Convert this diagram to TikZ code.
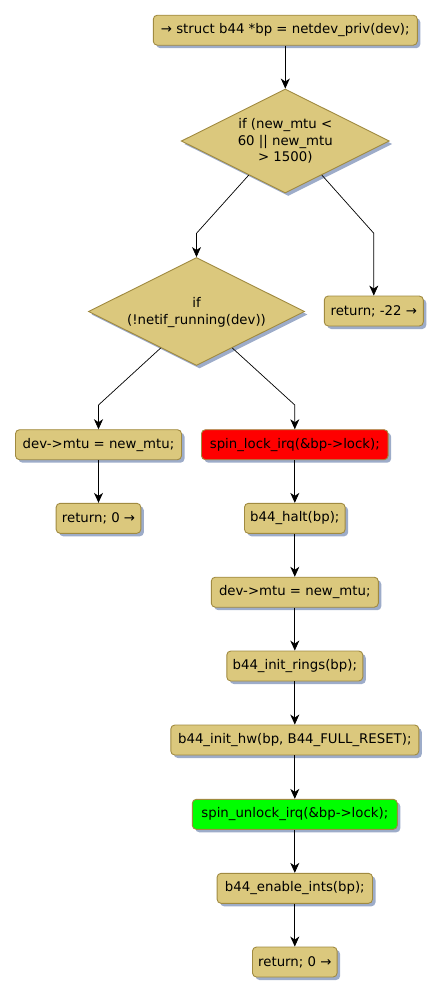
\documentclass[tikz,border=0pt]{standalone}
\usepackage{fontspec}
\setmainfont{DejaVu Sans}
\usetikzlibrary{shapes.geometric,arrows.meta,shadows,calc}
\definecolor{boxfill}{RGB}{219,200,125}
\definecolor{boxline}{RGB}{160,138,64}
\definecolor{shadowcol}{RGB}{140,157,192}
\definecolor{redfill}{RGB}{255,0,0}
\definecolor{greenfill}{RGB}{0,255,0}
\begin{document}
\begin{tikzpicture}[x=1pt,y=-1pt,
  font=\fontsize{13.3}{16.5}\selectfont,
  act/.style={draw=boxline, fill=boxfill, line width=0.9pt, rounded corners=4pt,
    minimum height=30pt, inner xsep=2pt, inner ysep=0pt,
    drop shadow={shadow xshift=3pt, shadow yshift=-3pt, fill=shadowcol, opacity=0.85}},
  dec/.style={draw=boxline, fill=boxfill, line width=0.9pt, shape=diamond, inner sep=0pt,
    drop shadow={shadow xshift=3pt, shadow yshift=-3pt, fill=shadowcol, opacity=0.85}},
  lbl/.style={align=center, inner sep=0pt},
  arr/.style={line width=0.9pt, -{Stealth[length=10pt,width=9pt,inset=3pt]}},
  darr/.style={line width=0.7pt, -{Stealth[length=10pt,width=9pt,inset=3pt]}}]
\useasboundingbox (0,0) rectangle (442,996);
\node[act, minimum width=264pt] (b1) at (285.3,30.2) {→ struct b44 *bp = netdev\_priv(dev);};
\node[dec, minimum width=208pt, minimum height=104pt] (d1) at (285.3,141) {};
\node[lbl] (d1t) at (d1.center) {if (new\_mtu <\\60 || new\_mtu\\> 1500)};
\node[act, minimum width=99pt] (r22) at (373.8,311) {return; -22 →};
\node[dec, minimum width=216pt, minimum height=108pt] (d2) at (196.5,311.5) {};
\node[lbl] (d2t) at ([yshift=-1pt]d2.center) {if\\(!netif\_running(dev))};
\node[act, minimum width=166pt] (m1) at (98.5,444.7) {dev->mtu = new\_mtu;};
\node[act, minimum width=84.7pt] (r0a) at (98.5,518.3) {return; 0 →};
\node[act, minimum width=186.7pt, fill=redfill] (sl) at (294.8,444.7) {spin\_lock\_irq(\&bp->lock);};
\node[act, minimum width=100.7pt] (h) at (294.8,518.3) {b44\_halt(bp);};
\node[act, minimum width=167pt] (m2) at (294.8,592.2) {dev->mtu = new\_mtu;};
\node[act, minimum width=136pt] (ir) at (294.8,666) {b44\_init\_rings(bp);};
\node[act, minimum width=248pt] (ih) at (294.8,740) {b44\_init\_hw(bp, B44\_FULL\_RESET);};
\node[act, minimum width=205pt, fill=greenfill] (su) at (294.8,814.3) {spin\_unlock\_irq(\&bp->lock);};
\node[act, minimum width=155.4pt] (ei) at (294.8,888.3) {b44\_enable\_ints(bp);};
\node[act, minimum width=84.6pt] (r0b) at (294.8,962) {return; 0 →};
% connectors
\draw[arr] (b1.south) -- (d1.north);
\coordinate (k1) at (d2.north |- 0,233.3);
\coordinate (k2) at (r22.north |- 0,233.3);
\draw[darr] ($(d1.south)!0.35!(d1.west)$) -- (k1) -- (d2.north);
\draw[darr] ($(d1.south)!0.35!(d1.east)$) -- (k2) -- (r22.north);
\coordinate (k3) at (m1.north |- 0,405);
\coordinate (k4) at (sl.north |- 0,405);
\draw[darr] ($(d2.south)!0.33!(d2.west)$) -- (k3) -- (m1.north);
\draw[darr] ($(d2.south)!0.33!(d2.east)$) -- (k4) -- (sl.north);
\draw[arr] (m1.south) -- (r0a.north);
\draw[arr] (sl.south) -- (h.north);
\draw[arr] (h.south) -- (m2.north);
\draw[arr] (m2.south) -- (ir.north);
\draw[arr] (ir.south) -- (ih.north);
\draw[arr] (ih.south) -- (su.north);
\draw[arr] (su.south) -- (ei.north);
\draw[arr] (ei.south) -- (r0b.north);
\end{tikzpicture}
\end{document}
